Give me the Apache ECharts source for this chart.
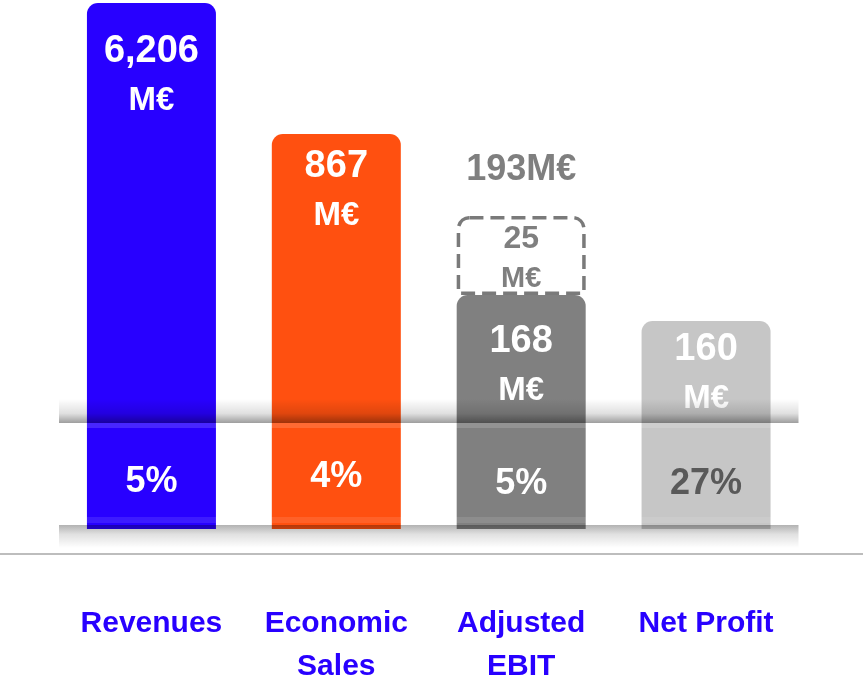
<!DOCTYPE html>
<html>
<head>
<meta charset="utf-8">
<script src="https://cdn.jsdelivr.net/npm/echarts@6/dist/echarts.min.js"></script>
<style>
  html, body { margin: 0; padding: 0; background: #fff; }
  #chart { width: 863px; height: 684px; }
</style>
</head>
<body>
<div id="chart"></div>
<script>
// categories and labels
var categories = ['Revenues', 'Economic\nSales', 'Adjusted\nEBIT', 'Net Profit'];
var amountLabels = ['6,206', '867', '168', '160'];
var marginLabels = ['5%', '4%', '5%', '27%'];
// bar heights as drawn (the picture is not to scale)
var barHeights = [526, 395, 234, 208];
var extraHeights = [null, null, 79, null];
var extraLabel = '25';
var totalLabel = '193M€';
// vertical place of the % labels
var marginHeights = [47, 52, 45, 45];

var barColors = ['#2800ff', '#ff5010', '#808080', '#c6c6c6'];
var labelGaps = [24, 8, 22, 4];
var font = 'Liberation Sans, Arial, sans-serif';

var myEchart = echarts.init(document.getElementById('chart'));

var baseData = barHeights.map(function (v, i) {
    return {
        value: v,
        itemStyle: { color: barColors[i] },
        label: { distance: labelGaps[i] }
    };
});

var totalData = barHeights.map(function (v, i) {
    return extraHeights[i] == null ? null : v + extraHeights[i];
});

var shadowTop = {type: 'linear', x: 0, y: 0, x2: 0, y2: 1,
    colorStops: [{offset: 0, color: 'rgba(0,0,0,0)'}, {offset: 0.6, color: 'rgba(0,0,0,0.12)'}, {offset: 1, color: 'rgba(0,0,0,0.38)'}]};
var shadowBottom = {type: 'linear', x: 0, y: 0, x2: 0, y2: 1,
    colorStops: [{offset: 0, color: 'rgba(0,0,0,0.3)'}, {offset: 0.4, color: 'rgba(0,0,0,0.12)'}, {offset: 1, color: 'rgba(0,0,0,0)'}]};

var option = {
    backgroundColor: '#fff',
    animation: false,
    grid: {left: 59, right: 64.5, top: 0, bottom: 130, outerBoundsMode: 'none'},
    xAxis: {
        type: 'category',
        data: categories,
        axisLine: {show: false},
        axisTick: {show: false},
        axisLabel: {
            margin: 48,
            color: '#2800ff',
            fontFamily: font,
            fontWeight: 'bold',
            fontSize: 30,
            lineHeight: 43,
            interval: 0
        }
    },
    yAxis: {
        type: 'value',
        min: -25,
        max: 529,
        show: false,
        splitLine: {show: false}
    },
    series: [
        {
            name: 'amount',
            type: 'bar',
            stack: 'a',
            barWidth: 129,
            z: 2,
            itemStyle: {borderRadius: [11, 11, 0, 0]},
            label: {
                show: true,
                position: 'insideTop',
                formatter: function (p) {
                    return '{v|' + amountLabels[p.dataIndex] + '}\n{u|M€}';
                },
                rich: {
                    v: {fontFamily: font, fontWeight: 'bold', fontSize: 38, color: '#fff', lineHeight: 49},
                    u: {fontFamily: font, fontWeight: 'bold', fontSize: 33, color: '#fff', lineHeight: 49}
                }
            },
            data: baseData
        },
        {
            name: 'extra',
            type: 'bar',
            stack: 'a',
            barWidth: 129,
            z: 3,
            itemStyle: {
                color: '#fff',
                borderColor: '#7a7a7a',
                borderWidth: 3.5,
                borderType: [14, 7],
                borderRadius: [11, 11, 0, 0]
            },
            label: {
                show: true,
                position: 'insideTop',
                distance: 3,
                formatter: '{v|' + extraLabel + '}\n{u|M€}',
                rich: {
                    v: {fontFamily: font, fontWeight: 'bold', fontSize: 32, color: '#7f7f7f', lineHeight: 40},
                    u: {fontFamily: font, fontWeight: 'bold', fontSize: 29, color: '#7f7f7f', lineHeight: 40}
                }
            },
            data: extraHeights
        },
        {
            name: 'total',
            type: 'scatter',
            symbolSize: 0,
            z: 4,
            itemStyle: {opacity: 1},
            label: {
                show: true,
                position: 'top',
                distance: 28,
                formatter: totalLabel,
                fontFamily: font,
                fontWeight: 'bold',
                fontSize: 36,
                color: '#7f7f7f'
            },
            data: totalData
        },
        {
            name: 'margin',
            type: 'scatter',
            symbolSize: 0,
            z: 10,
            itemStyle: {opacity: 1},
            label: {
                show: true,
                position: 'inside',
                formatter: function (p) { return marginLabels[p.dataIndex]; },
                fontFamily: font,
                fontWeight: 'bold',
                fontSize: 36,
                color: '#fff'
            },
            data: marginHeights.map(function (v, i) {
                return i === 3 ? {value: v, label: {color: '#595959'}} : v;
            }),
            markArea: {
                silent: true,
                z: 10,
                label: {show: false},
                data: [
                    [{yAxis: 130, itemStyle: {color: shadowTop}}, {yAxis: 106}],
                    [{yAxis: 106, itemStyle: {color: 'rgba(255,255,255,0.15)'}}, {yAxis: 101}],
                    [{yAxis: 12, itemStyle: {color: 'rgba(255,255,255,0.1)'}}, {yAxis: 6}],
                    [{yAxis: 4, itemStyle: {color: shadowBottom}}, {yAxis: -19}]
                ]
            }
        }
    ],
    graphic: [{
        type: 'rect',
        left: 0,
        top: 553,
        shape: {width: 863, height: 2},
        style: {fill: '#bdbdbd'}
    }]
};

myEchart.setOption(option);
</script>
</body>
</html>
